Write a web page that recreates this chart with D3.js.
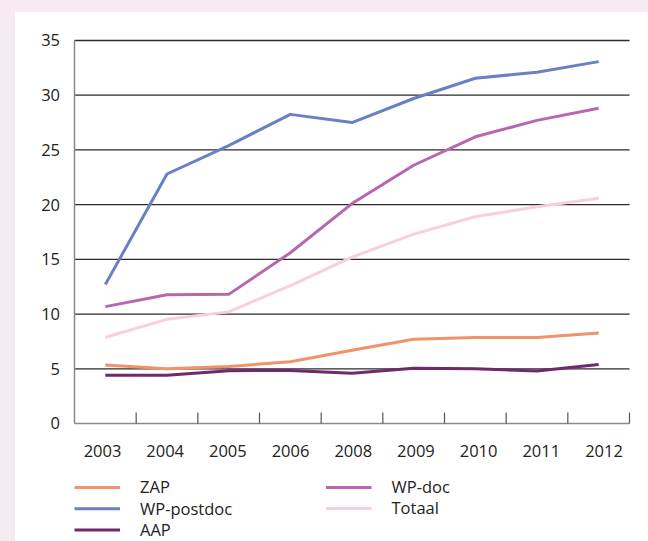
<!DOCTYPE html>
<html><head><meta charset="utf-8">
<script src="https://cdn.jsdelivr.net/npm/d3@7"></script>
<style>
html,body{margin:0;padding:0;background:#f6eaf3;}
svg{display:block;font-family:"Open Sans",sans-serif;}
</style></head>
<body>
<svg id="chart" width="648" height="541"></svg>
<script>
const years = ["2003","2004","2005","2006","2008","2009","2010","2011","2012"];
const yTicks = [0,5,10,15,20,25,30,35];
const seriesNames = ["ZAP","WP-postdoc","AAP","WP-doc","Totaal"];
const seriesColors = ["#f0936a","#6a7fc4","#6e2a6c","#b866b0","#f8cfe2"];
const zap      = [5.35,5.0,5.2,5.65,6.7,7.7,7.85,7.85,8.27];
const wpPostdoc= [12.7,22.8,25.4,28.25,27.5,29.7,31.55,32.1,33.07];
const aap      = [4.4,4.4,4.83,4.85,4.6,5.05,5.0,4.8,5.4];
const wpDoc    = [10.68,11.77,11.8,15.6,20.1,23.6,26.2,27.7,28.8];
const totaal   = [7.88,9.52,10.2,12.6,15.2,17.3,18.9,19.8,20.58];
const seriesValues = [zap,wpPostdoc,aap,wpDoc,totaal];

(function(){
const svg = d3.select("#chart");
svg.append("rect").attr("x",15).attr("y",12).attr("width",633).attr("height",529).attr("fill","#ffffff");

const pL=74.5, pR=629.5, pT=40.5, pB=423.5;
const x = d3.scaleBand().domain(years).range([pL,pR]);
const xLab = d3.scalePoint().domain(years).range([102.5,604]);
const y = d3.scaleLinear().domain([0,35]).range([pB,pT]);

// gridlines
svg.append("g").selectAll("line").data(yTicks.filter(d=>d>0)).join("line")
  .attr("x1",pL).attr("x2",pR).attr("y1",d=>y(d)).attr("y2",d=>y(d))
  .attr("stroke","#2b2b2b").attr("stroke-width",1.3);

// y labels
svg.append("g").selectAll("text").data(yTicks).join("text")
  .attr("x",60).attr("y",d=>y(d)).attr("dy","0.36em").attr("text-anchor","end")
  .attr("font-size",16.5).attr("fill","#222").text(d=>d);

// axes lines
svg.append("line").attr("x1",pL).attr("x2",pL).attr("y1",pT).attr("y2",pB)
  .attr("stroke","#8a8a8a").attr("stroke-width",1.5);
svg.append("line").attr("x1",pL).attr("x2",pR).attr("y1",pB).attr("y2",pB)
  .attr("stroke","#8a8a8a").attr("stroke-width",1.5);
const tickPos = years.map(d=>x(d)).concat([x(years[years.length-1])+x.bandwidth()]).slice(1);
svg.append("g").selectAll("line").data(tickPos).join("line")
  .attr("x1",d=>d).attr("x2",d=>d).attr("y1",pB).attr("y2",pB-11)
  .attr("stroke","#555").attr("stroke-width",1.2);

// x labels
svg.append("g").selectAll("text").data(years).join("text")
  .attr("x",d=>xLab(d)).attr("y",457).attr("text-anchor","middle")
  .attr("font-size",16.5).attr("fill","#222").text(d=>d);

// lines
const line = d3.line().x((d,i)=>x(years[i])+x.bandwidth()/2).y(d=>y(d));
const order = [4,0,2,3,1];
order.forEach(k=>{
  svg.append("path").datum(seriesValues[k]).attr("d",line)
    .attr("fill","none").attr("stroke",seriesColors[k]).attr("stroke-width",3)
    .attr("stroke-linejoin","round");
});

// legend
const legPos = [[74.5,487.5],[74.5,508.7],[74.5,530],[326,487.5],[326,508.5]];
seriesNames.forEach((n,i)=>{
  const [lx,ly]=legPos[i];
  svg.append("line").attr("x1",lx).attr("x2",lx+45.5).attr("y1",ly).attr("y2",ly)
    .attr("stroke",seriesColors[i]).attr("stroke-width",3);
  svg.append("text").attr("x",lx+65.5).attr("y",ly).attr("dy","0.36em")
    .attr("font-size",16.5).attr("fill","#222").text(n);
});
})();
</script>
</body></html>
